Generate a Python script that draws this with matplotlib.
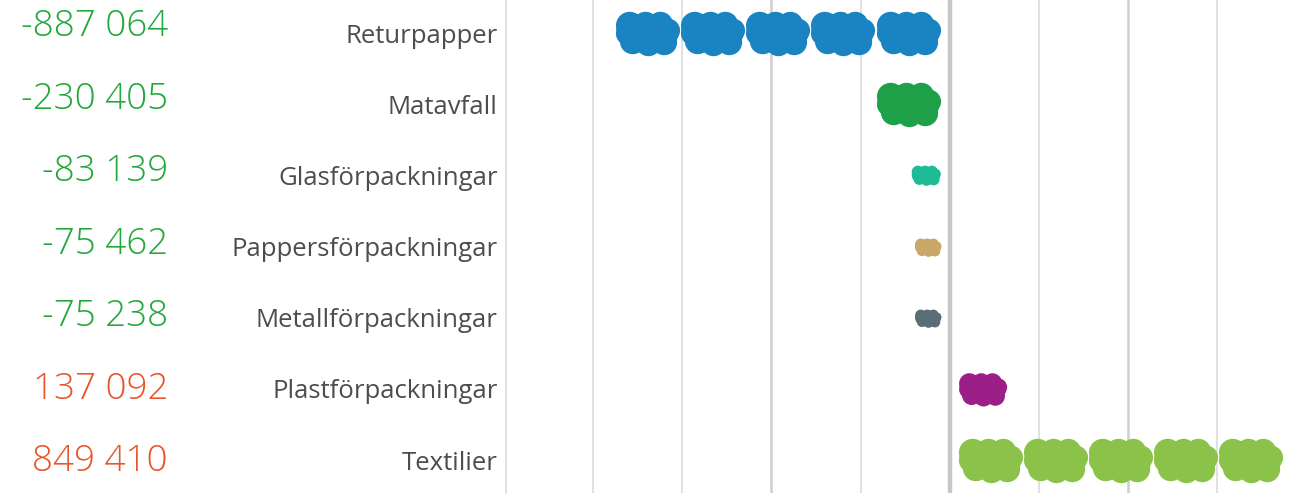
import numpy as np
import matplotlib.pyplot as plt
from matplotlib.path import Path
from matplotlib.markers import MarkerStyle

# data
categories = ['Returpapper', 'Matavfall', 'Glasförpackningar', 'Pappersförpackningar',
              'Metallförpackningar', 'Plastförpackningar', 'Textilier']
values = [-887064, -230405, -83139, -75462, -75238, 137092, 849410]
cloud_colors = ['#1a83c1', '#1ea048', '#1dbb96', '#c9a766', '#5b6e78', '#9b1f86', '#8bc34a']

unit = 183000          # one cloud step
cloud_w = 180000       # width of a full cloud in data units
gap = 25000            # space between zero line and first cloud

W, H = 1306, 496
fig = plt.figure(figsize=(W / 100, H / 100), dpi=100)
plt.rcParams['font.family'] = ['Open Sans', 'DejaVu Sans']

# cloud marker built from overlapping circles (pixel-ish units, y up)
bumps = [(-13, 0, 17), (0, 0, 18), (13, 0, 17),
         (-19, 8, 14), (-3, 9, 13), (12, 9, 13), (20, 3, 12),
         (16, -9, 13), (0, -10, 13), (-16, -8, 13), (-21, 0, 12)]
cloud = Path.make_compound_path(*[Path.circle((cx, cy), r) for cx, cy, r in bumps])
ext = cloud.get_extents()
maxabs = np.abs(cloud.vertices).max()
width_to_ms = 2 * maxabs / ext.width   # markersize per true cloud width
cloud_marker = MarkerStyle(cloud)

ax = fig.add_axes([506 / W, 3 / H, 1 - 506 / W, 493 / H])
ax.set_xlim(-1245000, 1000000)
ax.set_ylim(6.463, -0.4637)

for x in np.arange(-1000000, 1000000, 250000):
    if x == 0:
        ax.axvline(x, color='#c8c8c8', lw=3.2, zorder=1)
    elif abs(x) == 500000:
        ax.axvline(x, color='#cfcfcf', lw=1.8, zorder=1)
    else:
        ax.axvline(x, color='#d9d9d9', lw=1.1, zorder=1)

px_per_unit = (W - 506) / (1000000 + 1245000)
for i, (v, c) in enumerate(zip(values, cloud_colors)):
    sign = np.sign(v)
    n = max(1, int(round(abs(v) / unit)))
    scale = min(1.0, abs(v) / unit)
    xs = [sign * (gap + scale * cloud_w / 2 + k * unit) for k in range(n)]
    w_pt = scale * cloud_w * px_per_unit * 0.72
    ms = w_pt * width_to_ms
    ax.scatter(xs, [i] * n, s=ms ** 2, marker=cloud_marker, color=c, linewidths=0, zorder=3)

ax.set_yticks(range(len(categories)))
ax.set_yticklabels(categories, fontsize=18.5, color='#4d4d4d')
ax.tick_params(axis='y', length=0, pad=6)
ax.set_xticks([])
for s in ['top', 'right', 'bottom']:
    ax.spines[s].set_visible(False)
ax.spines['left'].set_color('#d9d9d9')
ax.spines['left'].set_linewidth(1.1)

# numbers column
axn = fig.add_axes([0, 0, 506 / W, 1])
axn.set_xlim(0, 506)
axn.set_ylim(6.469, -0.372)
axn.axis('off')
for i, v in enumerate(values):
    txt = f'{v:,}'.replace(',', ' ')
    col = '#22a83a' if v < 0 else '#e8552a'
    axn.text(168, i, txt, ha='right', va='center', fontsize=26.5, color=col, fontweight='light')

fig.savefig('out.png', dpi=100)
